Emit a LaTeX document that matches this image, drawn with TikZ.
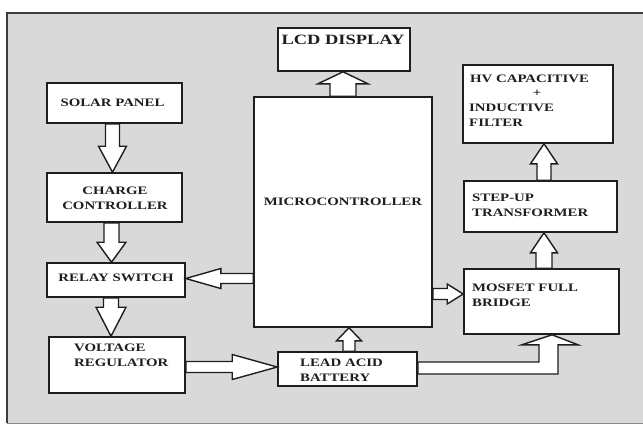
\documentclass[tikz,border=0pt]{standalone}
\usepackage{fontspec}
\newfontfamily\lblfont{Liberation Serif}[FakeStretch=1.3]
\usetikzlibrary{calc,fit}
\definecolor{bggray}{RGB}{217,217,217}
\definecolor{ink}{RGB}{30,30,30}
\definecolor{framecol}{RGB}{60,60,60}
\newcommand{\arrowdown}[5]{\draw[barrow] let \p1=(#1), \p2=(#2) in (\x1-#3,\y1) -- (\x1-#3,\y2+#5) -- (\x1-#4,\y2+#5) -- (\x1,\y2) -- (\x1+#4,\y2+#5) -- (\x1+#3,\y2+#5) -- (\x1+#3,\y1) -- cycle;}
\newcommand{\arrowup}[5]{\draw[barrow] let \p1=(#1), \p2=(#2) in (\x1-#3,\y1) -- (\x1-#3,\y2-#5) -- (\x1-#4,\y2-#5) -- (\x1,\y2) -- (\x1+#4,\y2-#5) -- (\x1+#3,\y2-#5) -- (\x1+#3,\y1) -- cycle;}
\newcommand{\arrowleft}[5]{\draw[barrow] let \p1=(#1), \p2=(#2) in (\x1,\y1-#3) -- (\x2+#5,\y1-#3) -- (\x2+#5,\y1-#4) -- (\x2,\y1) -- (\x2+#5,\y1+#4) -- (\x2+#5,\y1+#3) -- (\x1,\y1+#3) -- cycle;}
\newcommand{\arrowright}[5]{\draw[barrow] let \p1=(#1), \p2=(#2) in (\x1,\y1-#3) -- (\x2-#5,\y1-#3) -- (\x2-#5,\y1-#4) -- (\x2,\y1) -- (\x2-#5,\y1+#4) -- (\x2-#5,\y1+#3) -- (\x1,\y1+#3) -- cycle;}
\tikzset{
  box/.style={draw=ink, fill=white, line width=1.6pt, inner sep=0pt},
  lbl/.style={text=ink, inner sep=0pt, font=\lblfont\bfseries\fontsize{11.4}{14.7}\selectfont},
  biglbl/.style={text=ink, inner sep=0pt, font=\lblfont\bfseries\fontsize{14.2}{17}\selectfont},
  barrow/.style={draw=ink, fill=white, line width=1.4pt, line join=miter}
}
\begin{document}
\begin{tikzpicture}[x=1pt,y=-1pt]
\useasboundingbox (0,0) rectangle (643,426);
\fill[white] (0,0) rectangle (643,426);
\fill[bggray] (7,13) rectangle (643,423);
\draw[framecol, line width=1.6pt] (643,13) -- (7,13) -- (7,423);
\draw[framecol!60, line width=0.8pt] (7,423) -- (643,423);
% boxes
\node[box, fit={(47,83) (182,123)}] (solar) {};
\node[box, fit={(47,173) (182,222)}] (charge) {};
\node[box, fit={(47,263) (185,297)}] (relay) {};
\node[box, fit={(49,337) (185,393)}] (volt) {};
\node[box, fit={(278,28) (410,71)}] (lcd) {};
\node[box, fit={(254,97) (432,327)}] (micro) {};
\node[box, fit={(463,65) (613,143)}] (hv) {};
\node[box, fit={(464,181) (617,232)}] (stepup) {};
\node[box, fit={(464,269) (619,334)}] (mosfet) {};
\node[box, fit={(278,352) (417,386)}] (battery) {};
% labels
\node[lbl] (solar-t) at (112.5,103) {SOLAR PANEL};
\node[lbl, align=center] (charge-t) at (115,198) {CHARGE\\CONTROLLER};
\node[lbl] (relay-t) at (116,278) {RELAY SWITCH};
\node[lbl, align=left, anchor=west] (volt-t) at (74,355.5) {VOLTAGE\\REGULATOR};
\node[biglbl] (lcd-t) at (343,40) {LCD DISPLAY};
\node[lbl] (micro-t) at (343,202) {MICROCONTROLLER};
\node[lbl, anchor=west] (hv-t1) at (470,79) {HV CAPACITIVE};
\node[lbl] (hv-t2) at (537,93) {+};
\node[lbl, align=left, anchor=west] (hv-t3) at (469,115.5) {INDUCTIVE\\FILTER};
\node[lbl, align=left, anchor=west] (stepup-t) at (472,205) {STEP-UP\\TRANSFORMER};
\node[lbl, align=left, anchor=west] (mosfet-t) at (472,295) {MOSFET FULL\\BRIDGE};
\node[lbl, align=left, anchor=west] (battery-t) at (300,370.5) {LEAD ACID\\BATTERY};
% connector anchors
\coordinate (m2m) at ($(micro.east |- mosfet.west)+(0,-7.5)$);
\coordinate (m2r) at ($(micro.west |- relay.east)+(0,-1.5)$);
% block arrows
\arrowdown{[xshift=-2pt]solar.south}{charge.north}{7pt}{14pt}{26pt}
\arrowdown{[xshift=-3pt]charge.south}{relay.north}{7.5pt}{14.5pt}{20pt}
\arrowdown{[xshift=-5pt]relay.south}{volt.north}{7.5pt}{15pt}{29pt}
\arrowleft{m2r}{relay.east}{5pt}{10pt}{35pt}
\arrowright{[yshift=-2pt]volt.east}{battery.west}{5.5pt}{12.5pt}{45pt}
\arrowup{[xshift=1.5pt]battery.north}{micro.south}{6pt}{12.5pt}{13pt}
\arrowup{micro.north}{lcd.south}{13pt}{25pt}{12pt}
\arrowright{m2m}{mosfet.west}{5.5pt}{10pt}{16pt}
\arrowup{[xshift=2.5pt]mosfet.north}{stepup.south}{8pt}{13.5pt}{20pt}
\arrowup{[xshift=3.5pt]stepup.north}{hv.south}{7pt}{13.5pt}{20pt}
\draw[barrow] let \p1=(battery.east), \p2=(mosfet.south) in
  (\x1,\y1+7pt) -- (\x2-2.5pt,\y1+7pt) -- (\x2-2.5pt,\y2-10pt) -- (\x2-19.5pt,\y2-10pt)
  -- (\x2+10.5pt,\y2) -- (\x2+36.5pt,\y2-10pt) -- (\x2+16.5pt,\y2-10pt)
  -- (\x2+16.5pt,\y1-5pt) -- (\x1,\y1-5pt) -- cycle;
\end{tikzpicture}
\end{document}
